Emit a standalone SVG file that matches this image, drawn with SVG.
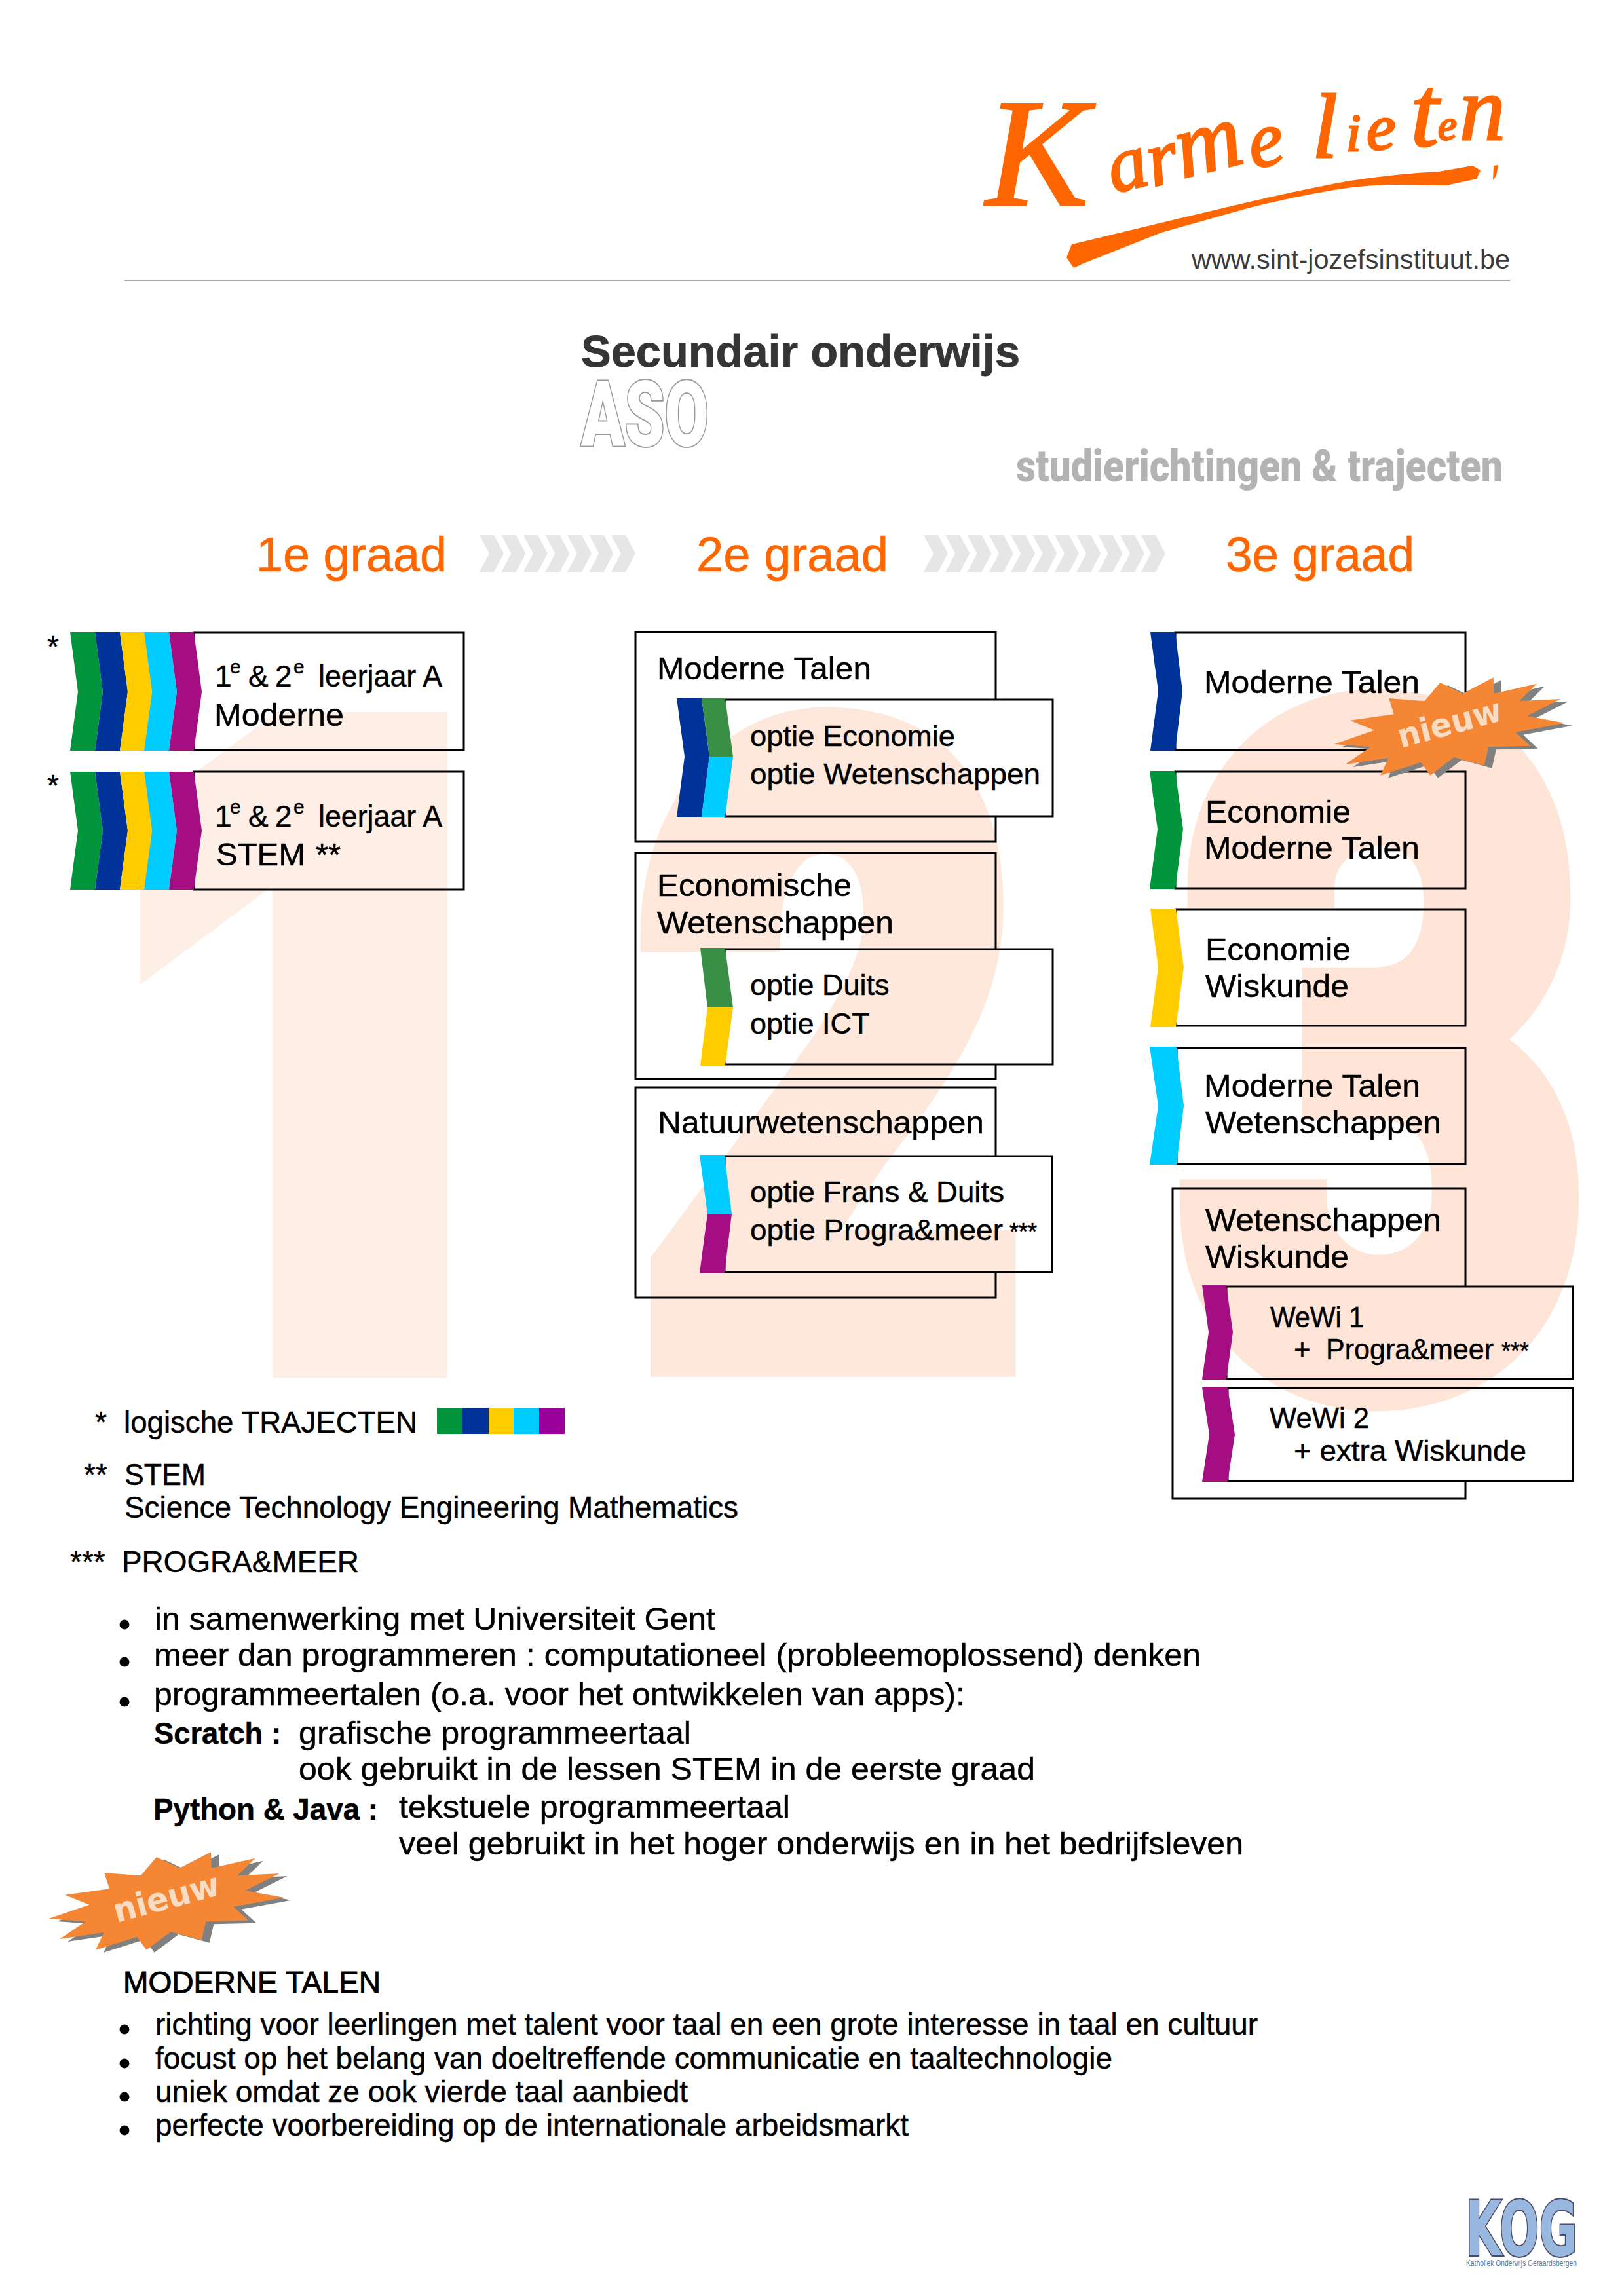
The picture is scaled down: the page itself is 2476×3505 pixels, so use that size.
<svg xmlns="http://www.w3.org/2000/svg" xmlns:xlink="http://www.w3.org/1999/xlink" width="2476" height="3505" viewBox="0 0 2476 3505">
<style>
text{font-family:"Liberation Sans",Arial,sans-serif;fill:#000}
.box{fill:none;stroke:#000;stroke-width:3}
.b{font-weight:bold}
.f49{font-size:49px}
.f45{font-size:45px}
.f44{font-size:44px}
.f46{font-size:46px}
.f49,.f45,.f44,.f46{stroke:#000;stroke-width:.5}
.graad{font-size:75px;fill:#ff6600;stroke:#ff6600;stroke-width:.6}
.wm{font-family:Roboto,"Liberation Sans",sans-serif;font-weight:900;font-size:1000px}
.nieuw{font-family:"DejaVu Sans",sans-serif;font-weight:bold;font-size:50px;fill:#f9dcc4}
.sig{font-family:"Liberation Serif",serif;font-style:italic;fill:#ff6600;stroke:#ff6600;stroke-width:3}
.or{fill:#ff6600}
.g{fill:#00953b}.n{fill:#003399}.y{fill:#ffcc00}.c{fill:#00ccff}.m{fill:#a50e82}.g2{fill:#3a8f46}
</style>
<defs>
<polygon id="arrow" points="0,817 22,817 37,845 22,873 0,873 15,845" fill="#e6e6e6"/>
<polygon id="star" points="18.4,149 80.4,127.7 42.9,112.7 111,103.3 103.3,79 158.8,83.3 182.9,55 218.1,71.7 266,47.3 266.7,71.7 333.7,56.7 306.2,83.3 370.5,80 318.4,106 377,116.7 300.4,130.7 323.4,151.7 258.3,153.3 251.8,181.7 204.7,169 167.6,196.7 153,176.7 90,196.7 102.6,170 35.2,180 74.6,153.3"/>
<g id="burst">
<use href="#star" x="12" y="4" fill="#808080"/>
<use href="#star" fill="#f58634"/>
<text class="nieuw" transform="translate(122,155) rotate(-15)" textLength="166" lengthAdjust="spacingAndGlyphs">nieuw</text>
</g>
</defs>

<g id="watermarks">
<text class="wm" style="font-family:Inter,Roboto,sans-serif;fill:#fdefe5;stroke:#fdefe5;stroke-width:20" transform="translate(172,2090) scale(1.23,1.36)">1</text>
<text class="wm" style="fill:#fee8dc;stroke:#fee8dc;stroke-width:40" transform="translate(968,2075) scale(1.04,1.343)">2</text>
<text class="wm" style="fill:#fee5d8;stroke:#fee5d8;stroke-width:40" transform="translate(1797,2112) scale(1.095,1.43)">3</text>
</g>

<g id="logo">
<text class="sig"><tspan x="1505" y="313" font-size="235">K</tspan><tspan x="1700" y="295" font-size="120" rotate="-14">a</tspan><tspan x="1760" y="285" font-size="120" rotate="-14">r</tspan><tspan x="1805" y="272" font-size="140" rotate="-14">m</tspan><tspan x="1912" y="257" font-size="120" rotate="-10">e</tspan><tspan x="2003" y="240" font-size="140">l</tspan><tspan x="2055" y="230" font-size="80">i</tspan><tspan x="2086" y="228" font-size="100">e</tspan><tspan x="2153" y="222" font-size="155">t</tspan><tspan x="2195" y="213" font-size="65">e</tspan><tspan x="2228" y="213" font-size="140">n</tspan></text>
<path class="or" d="M1636,373 L1773,340 L1908,308 Q1985,290 2055,277 Q2130,265 2196,262 L2248,253 L2260,260 L2254,273 L2208,283 L2122,282 Q2085,283 2049,288 Q1975,300 1908,317 L1773,355 L1654,402 L1639,409 L1628,393 Z"/>
<path class="or" d="M2280,253 L2287,252 L2284,268 L2279,275 Z"/>
<text x="1819" y="410" font-size="41" style="fill:#3a3a3a" textLength="486" lengthAdjust="spacingAndGlyphs">www.sint-jozefsinstituut.be</text>
<rect x="190" y="427" width="2115" height="2" fill="#a8a8a8"/>
</g>

<g id="title">
<text class="b" x="887" y="560" font-size="69" style="fill:#363435;stroke:#363435;stroke-width:.8" textLength="670" lengthAdjust="spacingAndGlyphs">Secundair onderwijs</text>
<text x="887" y="681" font-size="140" style="font-family:Roboto,sans-serif;font-weight:900;fill:#fff;stroke:#999;stroke-width:4;paint-order:stroke" textLength="195" lengthAdjust="spacingAndGlyphs">ASO</text>
<text x="1551" y="735" font-size="68" style="font-family:Roboto,sans-serif;font-weight:900;fill:#b3b3b3" textLength="743" lengthAdjust="spacingAndGlyphs">studierichtingen &amp; trajecten</text>
</g>

<g id="graad-1"><text class="graad" x="391" y="872" textLength="291" lengthAdjust="spacingAndGlyphs">1e graad</text></g>
<g id="graad-2"><text class="graad" x="1063" y="872" textLength="293" lengthAdjust="spacingAndGlyphs">2e graad</text></g>
<g id="graad-3"><text class="graad" x="1871" y="872" textLength="288" lengthAdjust="spacingAndGlyphs">3e graad</text></g>

<g id="connectors">
<use href="#arrow" x="732"/><use href="#arrow" x="765.5"/><use href="#arrow" x="799"/><use href="#arrow" x="832.5"/><use href="#arrow" x="866"/><use href="#arrow" x="899.5"/><use href="#arrow" x="933"/>
<use href="#arrow" x="1410"/><use href="#arrow" x="1443.3"/><use href="#arrow" x="1476.6"/><use href="#arrow" x="1510"/><use href="#arrow" x="1543.3"/><use href="#arrow" x="1576.6"/><use href="#arrow" x="1610"/><use href="#arrow" x="1643.3"/><use href="#arrow" x="1676.6"/><use href="#arrow" x="1710"/><use href="#arrow" x="1742"/>
</g>

<g id="node-1a-moderne">
<rect class="box" x="296" y="966" width="412" height="179"/>
<polygon class="g" points="107,965 145,965 157,1056 145,1146 107,1146 119,1056"/>
<polygon class="n" points="145,965 183,965 195,1056 183,1146 145,1146 157,1056"/>
<polygon class="y" points="183,965 220,965 232,1056 220,1146 183,1146 195,1056"/>
<polygon class="c" points="220,965 258,965 270,1056 258,1146 220,1146 232,1056"/>
<polygon class="m" points="258,965 296,965 308,1056 296,1146 258,1146 270,1056"/>
<text class="f46" x="72" y="1003">*</text>
<text class="f46"><tspan x="328" y="1048">1</tspan><tspan x="351" y="1028" font-size="30">e</tspan><tspan x="379" y="1048">&amp;</tspan><tspan x="420" y="1048">2</tspan><tspan x="448" y="1028" font-size="30">e</tspan><tspan x="486" y="1048" textLength="189" lengthAdjust="spacingAndGlyphs">leerjaar A</tspan></text>
<text class="f49" x="327" y="1108" textLength="198" lengthAdjust="spacingAndGlyphs">Moderne</text>
</g>

<g id="node-1a-stem">
<rect class="box" x="296" y="1178" width="412" height="180"/>
<polygon class="g" points="107,1178 145,1178 157,1268 145,1358 107,1358 119,1268"/>
<polygon class="n" points="145,1178 183,1178 195,1268 183,1358 145,1358 157,1268"/>
<polygon class="y" points="183,1178 220,1178 232,1268 220,1358 183,1358 195,1268"/>
<polygon class="c" points="220,1178 258,1178 270,1268 258,1358 220,1358 232,1268"/>
<polygon class="m" points="258,1178 296,1178 308,1268 296,1358 258,1358 270,1268"/>
<text class="f46" x="72" y="1215">*</text>
<text class="f46"><tspan x="328" y="1262">1</tspan><tspan x="351" y="1242" font-size="30">e</tspan><tspan x="379" y="1262">&amp;</tspan><tspan x="420" y="1262">2</tspan><tspan x="448" y="1242" font-size="30">e</tspan><tspan x="486" y="1262" textLength="189" lengthAdjust="spacingAndGlyphs">leerjaar A</tspan></text>
<text class="f49"><tspan x="330" y="1321">STEM</tspan><tspan x="482" y="1321">**</tspan></text>
</g>

<g id="node-2-moderne-talen">
<path class="box" d="M1520,1068 V965 H970 V1285 H1520 V1246"/>
<text class="f49" x="1003" y="1037" textLength="327" lengthAdjust="spacingAndGlyphs">Moderne Talen</text>
<rect class="box" x="1107" y="1068" width="500" height="178"/>
<polygon class="n" points="1033,1066 1071,1066 1083,1155 1071,1247 1033,1247 1045,1155"/>
<polygon class="g2" points="1071,1066 1107,1066 1119,1155 1083,1155"/>
<polygon class="c" points="1083,1155 1119,1155 1107,1247 1071,1247"/>
<text class="f45" x="1145" y="1139" textLength="313" lengthAdjust="spacingAndGlyphs">optie Economie</text>
<text class="f45" x="1145" y="1197" textLength="443" lengthAdjust="spacingAndGlyphs">optie Wetenschappen</text>
</g>

<g id="node-2-economische">
<path class="box" d="M1520,1449 V1302 H970 V1647 H1520 V1625"/>
<text class="f49" x="1003" y="1368" textLength="297" lengthAdjust="spacingAndGlyphs">Economische</text>
<text class="f49" x="1003" y="1425" textLength="361" lengthAdjust="spacingAndGlyphs">Wetenschappen</text>
<rect class="box" x="1107" y="1449" width="500" height="176"/>
<polygon class="g2" points="1069,1447 1107,1447 1119,1538 1080,1538"/>
<polygon class="y" points="1080,1538 1119,1538 1107,1627 1069,1627"/>
<text class="f45" x="1145" y="1519">optie Duits</text>
<text class="f45" x="1145" y="1578">optie ICT</text>
</g>

<g id="node-2-natuur">
<path class="box" d="M1520,1765 V1660 H970 V1981 H1520 V1942"/>
<text class="f49" x="1004" y="1730" textLength="498" lengthAdjust="spacingAndGlyphs">Natuurwetenschappen</text>
<rect class="box" x="1106" y="1765" width="500" height="177"/>
<polygon class="c" points="1068,1763 1106,1763 1117,1853 1080,1853"/>
<polygon class="m" points="1080,1853 1117,1853 1106,1943 1068,1943"/>
<text class="f45" x="1145" y="1835" textLength="388" lengthAdjust="spacingAndGlyphs">optie Frans &amp; Duits</text>
<text class="f45"><tspan x="1145" y="1893" textLength="386" lengthAdjust="spacingAndGlyphs">optie Progra&amp;meer</tspan><tspan x="1541" y="1893" font-size="36">***</tspan></text>
</g>

<g id="node-3-moderne-talen">
<rect class="box" x="1794" y="966" width="443" height="179"/>
<polygon class="n" points="1756,965 1794,965 1805,1055 1794,1146 1756,1146 1768,1055"/>
<text class="f49" x="1838" y="1058" textLength="329" lengthAdjust="spacingAndGlyphs">Moderne Talen</text>
</g>
<g id="node-3-eco-mt">
<rect class="box" x="1794" y="1178" width="443" height="178"/>
<polygon class="g" points="1755,1177 1794,1177 1806,1266 1794,1357 1755,1357 1767,1266"/>
<text class="f49" x="1840" y="1256" textLength="222" lengthAdjust="spacingAndGlyphs">Economie</text>
<text class="f49" x="1838" y="1311" textLength="329" lengthAdjust="spacingAndGlyphs">Moderne Talen</text>
</g>
<g id="node-3-eco-wi">
<rect class="box" x="1795" y="1388" width="442" height="178"/>
<polygon class="y" points="1756,1387 1795,1387 1807,1477 1795,1568 1756,1568 1768,1477"/>
<text class="f49" x="1840" y="1466" textLength="222" lengthAdjust="spacingAndGlyphs">Economie</text>
<text class="f49" x="1840" y="1522" textLength="219" lengthAdjust="spacingAndGlyphs">Wiskunde</text>
</g>
<g id="node-3-mt-we">
<rect class="box" x="1796" y="1600" width="441" height="177"/>
<polygon class="c" points="1755,1598 1796,1598 1807,1688 1796,1778 1755,1778 1768,1688"/>
<text class="f49" x="1838" y="1674" textLength="330" lengthAdjust="spacingAndGlyphs">Moderne Talen</text>
<text class="f49" x="1840" y="1730" textLength="360" lengthAdjust="spacingAndGlyphs">Wetenschappen</text>
</g>
<g id="node-3-we-wi">
<path class="box" d="M2237,1964 V1814 H1790 V2288 H2237 V2261"/>
<text class="f49" x="1840" y="1879" textLength="360" lengthAdjust="spacingAndGlyphs">Wetenschappen</text>
<text class="f49" x="1840" y="1935" textLength="219" lengthAdjust="spacingAndGlyphs">Wiskunde</text>
<g id="node-wewi1">
<rect class="box" x="1872" y="1964" width="529" height="141"/>
<polygon class="m" points="1835,1962 1872,1962 1882,2034 1872,2106 1835,2106 1845,2034"/>
<text class="f44" x="1939" y="2026" textLength="143" lengthAdjust="spacingAndGlyphs">WeWi 1</text>
<text class="f44"><tspan x="1975" y="2075">+</tspan><tspan x="2024" y="2075" textLength="256" lengthAdjust="spacingAndGlyphs">Progra&amp;meer</tspan><tspan x="2292" y="2075" font-size="36">***</tspan></text>
</g>
<g id="node-wewi2">
<rect class="box" x="1874" y="2119" width="527" height="142"/>
<polygon class="m" points="1835,2118 1874,2118 1885,2190 1874,2262 1835,2262 1846,2190"/>
<text class="f44" x="1938" y="2180" textLength="152" lengthAdjust="spacingAndGlyphs">WeWi 2</text>
<text class="f44" x="1975" y="2230" textLength="355" lengthAdjust="spacingAndGlyphs">+ extra Wiskunde</text>
</g>
</g>

<g id="badge-nieuw-1"><use href="#burst" transform="translate(2019,987) scale(0.98,1)"/></g>

<g id="legend">
<text class="f46" x="145" y="2187">*</text>
<text class="f46" x="189" y="2187" textLength="448" lengthAdjust="spacingAndGlyphs">logische TRAJECTEN</text>
<rect x="667" y="2149" width="39" height="40" class="g"/><rect x="706" y="2149" width="40" height="40" class="n"/><rect x="746" y="2149" width="38" height="40" class="y"/><rect x="784" y="2149" width="39" height="40" class="c"/><rect x="823" y="2149" width="39" height="40" fill="#990099"/>
<text class="f46" x="128" y="2267">**</text>
<text class="f46" x="190" y="2267" textLength="124" lengthAdjust="spacingAndGlyphs">STEM</text>
<text class="f46" x="190" y="2317" textLength="937" lengthAdjust="spacingAndGlyphs">Science Technology Engineering Mathematics</text>
<text class="f46" x="107" y="2400">***</text>
<text class="f46" x="186" y="2400" textLength="362" lengthAdjust="spacingAndGlyphs">PROGRA&amp;MEER</text>
</g>

<g id="progra-meer">
<circle cx="190" cy="2480" r="7.5"/><circle cx="190" cy="2537" r="7.5"/><circle cx="190" cy="2598" r="7.5"/>
<text class="f49" x="236" y="2488" textLength="856" lengthAdjust="spacingAndGlyphs">in samenwerking met Universiteit Gent</text>
<text class="f49" x="235" y="2543" textLength="1598" lengthAdjust="spacingAndGlyphs">meer dan programmeren : computationeel (probleemoplossend) denken</text>
<text class="f49" x="235" y="2603" textLength="1238" lengthAdjust="spacingAndGlyphs">programmeertalen (o.a. voor het ontwikkelen van apps):</text>
<text class="f46 b" x="235" y="2662" textLength="194" lengthAdjust="spacingAndGlyphs">Scratch :</text>
<text class="f49" x="456" y="2662" textLength="599" lengthAdjust="spacingAndGlyphs">grafische programmeertaal</text>
<text class="f49" x="456" y="2717" textLength="1124" lengthAdjust="spacingAndGlyphs">ook gebruikt in de lessen STEM in de eerste graad</text>
<text class="f46 b" x="234" y="2778" textLength="343" lengthAdjust="spacingAndGlyphs">Python &amp; Java :</text>
<text class="f49" x="609" y="2775" textLength="597" lengthAdjust="spacingAndGlyphs">tekstuele programmeertaal</text>
<text class="f49" x="609" y="2831" textLength="1289" lengthAdjust="spacingAndGlyphs">veel gebruikt in het hoger onderwijs en in het bedrijfsleven</text>
</g>

<g id="badge-nieuw-2"><use href="#burst" transform="translate(56,2780)"/></g>

<g id="moderne-talen-info">
<text class="f46" x="188" y="3042" style="stroke-width:1" textLength="393" lengthAdjust="spacingAndGlyphs">MODERNE TALEN</text>
<circle cx="190" cy="3098" r="7.5"/><circle cx="190" cy="3150" r="7.5"/><circle cx="190" cy="3201" r="7.5"/><circle cx="190" cy="3252" r="7.5"/>
<text class="f46" x="237" y="3106" textLength="1683" lengthAdjust="spacingAndGlyphs">richting voor leerlingen met talent voor taal en een grote interesse in taal en cultuur</text>
<text class="f46" x="237" y="3158" textLength="1461" lengthAdjust="spacingAndGlyphs">focust op het belang van doeltreffende communicatie en taaltechnologie</text>
<text class="f46" x="237" y="3209" textLength="813" lengthAdjust="spacingAndGlyphs">uniek omdat ze ook vierde taal aanbiedt</text>
<text class="f46" x="237" y="3260" textLength="1150" lengthAdjust="spacingAndGlyphs">perfecte voorbereiding op de internationale arbeidsmarkt</text>
</g>

<g id="logo-kog">
<text x="2237" y="3443" font-size="116" style="font-family:'DejaVu Sans',sans-serif;font-weight:bold;fill:#98b8e0;stroke:#4d4a6a;stroke-width:4;paint-order:stroke" textLength="171" lengthAdjust="spacingAndGlyphs">KOG</text>
<text x="2238" y="3459" font-size="13" style="fill:#5a7a95" textLength="169" lengthAdjust="spacingAndGlyphs">Katholiek Onderwijs Geraardsbergen</text>
</g>
</svg>
